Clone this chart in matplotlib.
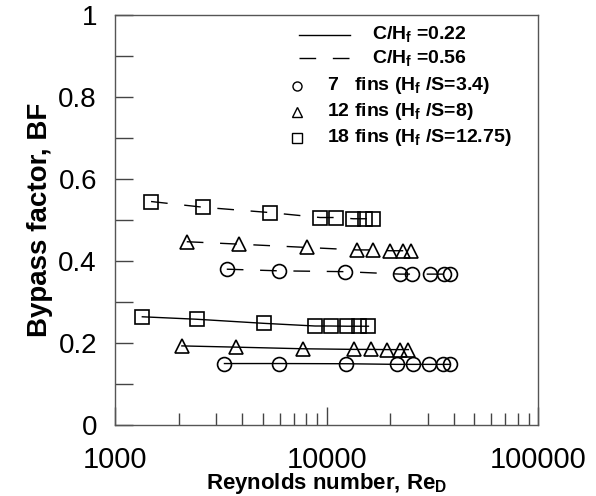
import matplotlib
matplotlib.use("Agg")
import matplotlib.pyplot as plt
from matplotlib.ticker import FixedLocator, NullFormatter, FixedFormatter

plt.rcParams["font.family"] = "Liberation Sans"
plt.rcParams["mathtext.fontset"] = "custom"
plt.rcParams["mathtext.rm"] = "Liberation Sans"
plt.rcParams["mathtext.bf"] = "Liberation Sans:bold"

# --- Bypass factor vs Reynolds number, two clearances x three fin counts ---
re_7_022 = [3290, 5960, 12370, 21480, 25540, 30630, 35660, 38370]
bf_7_022 = [0.150, 0.150, 0.1495, 0.148, 0.148, 0.148, 0.148, 0.148]
re_12_022 = [2070, 3720, 7770, 13540, 16180, 19260, 22270, 24350]
bf_12_022 = [0.193, 0.190, 0.186, 0.1845, 0.1845, 0.184, 0.184, 0.184]
re_18_022 = [1346, 2433, 5064, 8823, 10470, 12460, 14290, 15770]
bf_18_022 = [0.264, 0.258, 0.248, 0.2415, 0.2415, 0.241, 0.241, 0.241]

re_7_056 = [3374, 5960, 12230, 22270, 25280, 30850, 36070, 38370]
bf_7_056 = [0.380, 0.376, 0.374, 0.368, 0.368, 0.368, 0.368, 0.368]
re_12_056 = [2183, 3870, 8060, 13900, 16520, 19960, 23080, 25000]
bf_12_056 = [0.447, 0.441, 0.433, 0.427, 0.427, 0.425, 0.425, 0.425]
re_18_056 = [1480, 2616, 5407, 9314, 11090, 13390, 15210, 16650]
bf_18_056 = [0.545, 0.531, 0.518, 0.506, 0.506, 0.503, 0.503, 0.503]

fin_labels = ["7   fins (H$_\\mathbf{f}$ /S=3.4)",
              "12 fins (H$_\\mathbf{f}$ /S=8)",
              "18 fins (H$_\\mathbf{f}$ /S=12.75)"]
clearance_labels = ["C/H$_\\mathbf{f}$ =0.22", "C/H$_\\mathbf{f}$ =0.56"]
fin_markers = ["o", "^", "s"]

fig = plt.figure(figsize=(5.96, 4.96), dpi=100)
ax = fig.add_axes([0.193, 0.143, 0.710, 0.827])

mstyle = dict(markersize=10, markerfacecolor="none", markeredgecolor="black",
              markeredgewidth=1.2, color="black", linewidth=1.0)
dash = (0, (12, 12))

solid = [(re_7_022, bf_7_022), (re_12_022, bf_12_022), (re_18_022, bf_18_022)]
dashed = [(re_7_056, bf_7_056), (re_12_056, bf_12_056), (re_18_056, bf_18_056)]
for (x, y), m in zip(solid, fin_markers):
    ax.plot(x, y, marker=m, linestyle="-", **mstyle)
for (x, y), m in zip(dashed, fin_markers):
    ax.plot(x, y, marker=m, linestyle=dash, **mstyle)

ax.set_xscale("log")
ax.set_xlim(1000, 100000)
ax.set_ylim(0, 1)

ax.xaxis.set_major_locator(FixedLocator([1000, 10000, 100000]))
ax.xaxis.set_major_formatter(FixedFormatter(["1000", "10000", "100000"]))
ax.xaxis.set_minor_locator(FixedLocator(
    [k * 10 ** e for e in (3, 4) for k in range(2, 10)]))
ax.xaxis.set_minor_formatter(NullFormatter())
ax.yaxis.set_major_locator(FixedLocator([0, 0.2, 0.4, 0.6, 0.8, 1.0]))
ax.yaxis.set_major_formatter(FixedFormatter(["0", "0.2", "0.4", "0.6", "0.8", "1"]))
ax.yaxis.set_minor_locator(FixedLocator([0.1, 0.3, 0.5, 0.7, 0.9]))

ax.tick_params(which="both", direction="in", top=False, right=False,
               color="#444444", width=1.0)
ax.tick_params(axis="x", which="major", length=13, pad=15, labelsize=21)
ax.tick_params(axis="x", which="minor", length=9)
ax.tick_params(axis="y", which="both", length=13, pad=13, labelsize=20)

for sp in ax.spines.values():
    sp.set_color("#555555")
    sp.set_linewidth(1.0)

ax.set_xlabel("Reynolds number, Re$_\\mathbf{D}$", fontsize=16,
              fontweight="bold", labelpad=-2)
ax.set_ylabel("Bypass factor, BF", fontsize=20, fontweight="bold", labelpad=4)

# hand-built key in axes fraction
tr = ax.transAxes
key_rows = [0.952, 0.894]
for yk, lbl, ls in zip(key_rows, clearance_labels, ["-", dash]):
    ax.plot([0.435, 0.556], [yk, yk], color="black", linewidth=1.0,
            linestyle=ls, transform=tr)
    ax.text(0.608, yk, lbl, transform=tr, fontsize=14, fontweight="bold",
            va="center", ha="left")
for yk, lbl, m in zip([0.827, 0.764, 0.700], fin_labels, fin_markers):
    ax.plot([0.430], [yk], marker=m, markersize=6.5, markerfacecolor="none",
            markeredgecolor="black", markeredgewidth=1.0, linestyle="none",
            transform=tr)
    ax.text(0.501, yk, lbl, transform=tr, fontsize=14, fontweight="bold",
            va="center", ha="left")

fig.savefig("out.png", dpi=100)
